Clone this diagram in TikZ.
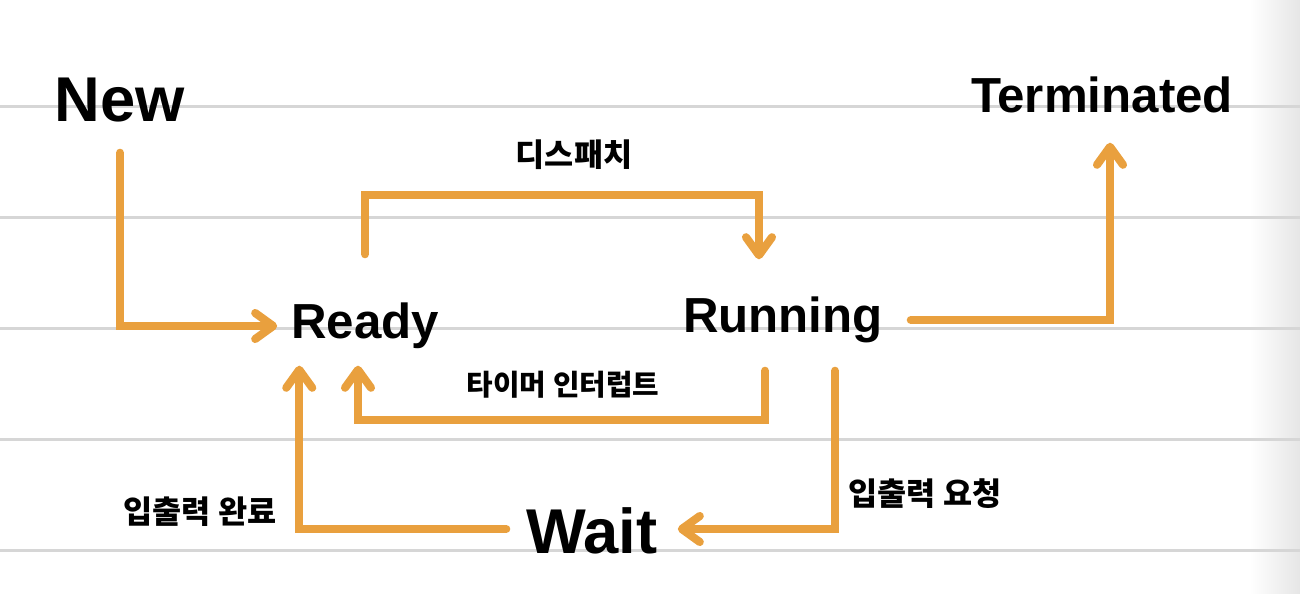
\documentclass[tikz,border=0pt]{standalone}
\usepackage{fontspec}
\setmainfont{Liberation Sans}
\newfontfamily\krfont{Noto Sans CJK KR}
\usetikzlibrary{arrows.meta,positioning}
\definecolor{flowor}{RGB}{233,160,62}
\definecolor{rulegray}{RGB}{214,214,214}

\begin{document}
\begin{tikzpicture}[x=0.01cm, y=-0.01cm,
  state/.style={inner sep=0pt, font=\bfseries\fontsize{14}{14}\selectfont},
  bigstate/.style={state, font=\bfseries\fontsize{18}{18}\selectfont},
  lbl/.style={inner sep=0pt, font=\krfont\bfseries\fontsize{9}{9}\selectfont},
  flow/.style={flowor, line width=2.3pt, line cap=round,
               -{Straight Barb[length=1.8mm,width=2.6mm,round]}}]

% paper
\fill[white] (0,0) rectangle (1300,594);
\useasboundingbox (0,0) rectangle (1300,594);
\shade[left color=white, right color=black!10] (1250,0) rectangle (1300,594);
\foreach \y in {106,217,328,439,550}
  \draw[rulegray, line width=0.3mm] (0,\y) -- (1300,\y);

% states
\node[bigstate, minimum height=1.04cm] (new) at (120,100) {New};
\node[state, minimum width=1.74cm, minimum height=0.78cm] (ready) at (365,326) {Ready};
\node[state, minimum width=2.54cm, minimum height=1.00cm] (running) at (783,320) {Running};
\node[state, minimum height=0.94cm] (terminated) at (1102,95) {Terminated};
\node[bigstate, minimum width=1.70cm] (wait) at (592,531) {Wait};

% labels
\node[lbl] (dispatch) at (574,155) {디스패치};
\node[lbl, font=\krfont\bfseries\fontsize{8.2}{8.2}\selectfont] (timer) at (563,385) {타이머 인터럽트};
\node[lbl] (ioreq) at (925,494) {입출력 요청};
\node[lbl] (iodone) at (200,512) {입출력 완료};

% transitions
\draw[flow] (new.south) |- (ready.west);
\draw[flow] ([yshift=3.2mm]ready.north) -- ++(0,-59) -| ([xshift=-2.4mm,yshift=1mm]running.north);
\draw[flow] (running.east) -| ([xshift=0.8mm]terminated.south);
\draw[flow] ([xshift=-1.8mm]running.south) -- ++(0,49) -| ([xshift=-0.7mm]ready.south);
\draw[flow] ([xshift=5.2mm]running.south) |- ([yshift=0.2mm]wait.east);
\draw[flow] ([yshift=0.2mm]wait.west) -| ([xshift=2.2mm]ready.south west);
\end{tikzpicture}
\end{document}
